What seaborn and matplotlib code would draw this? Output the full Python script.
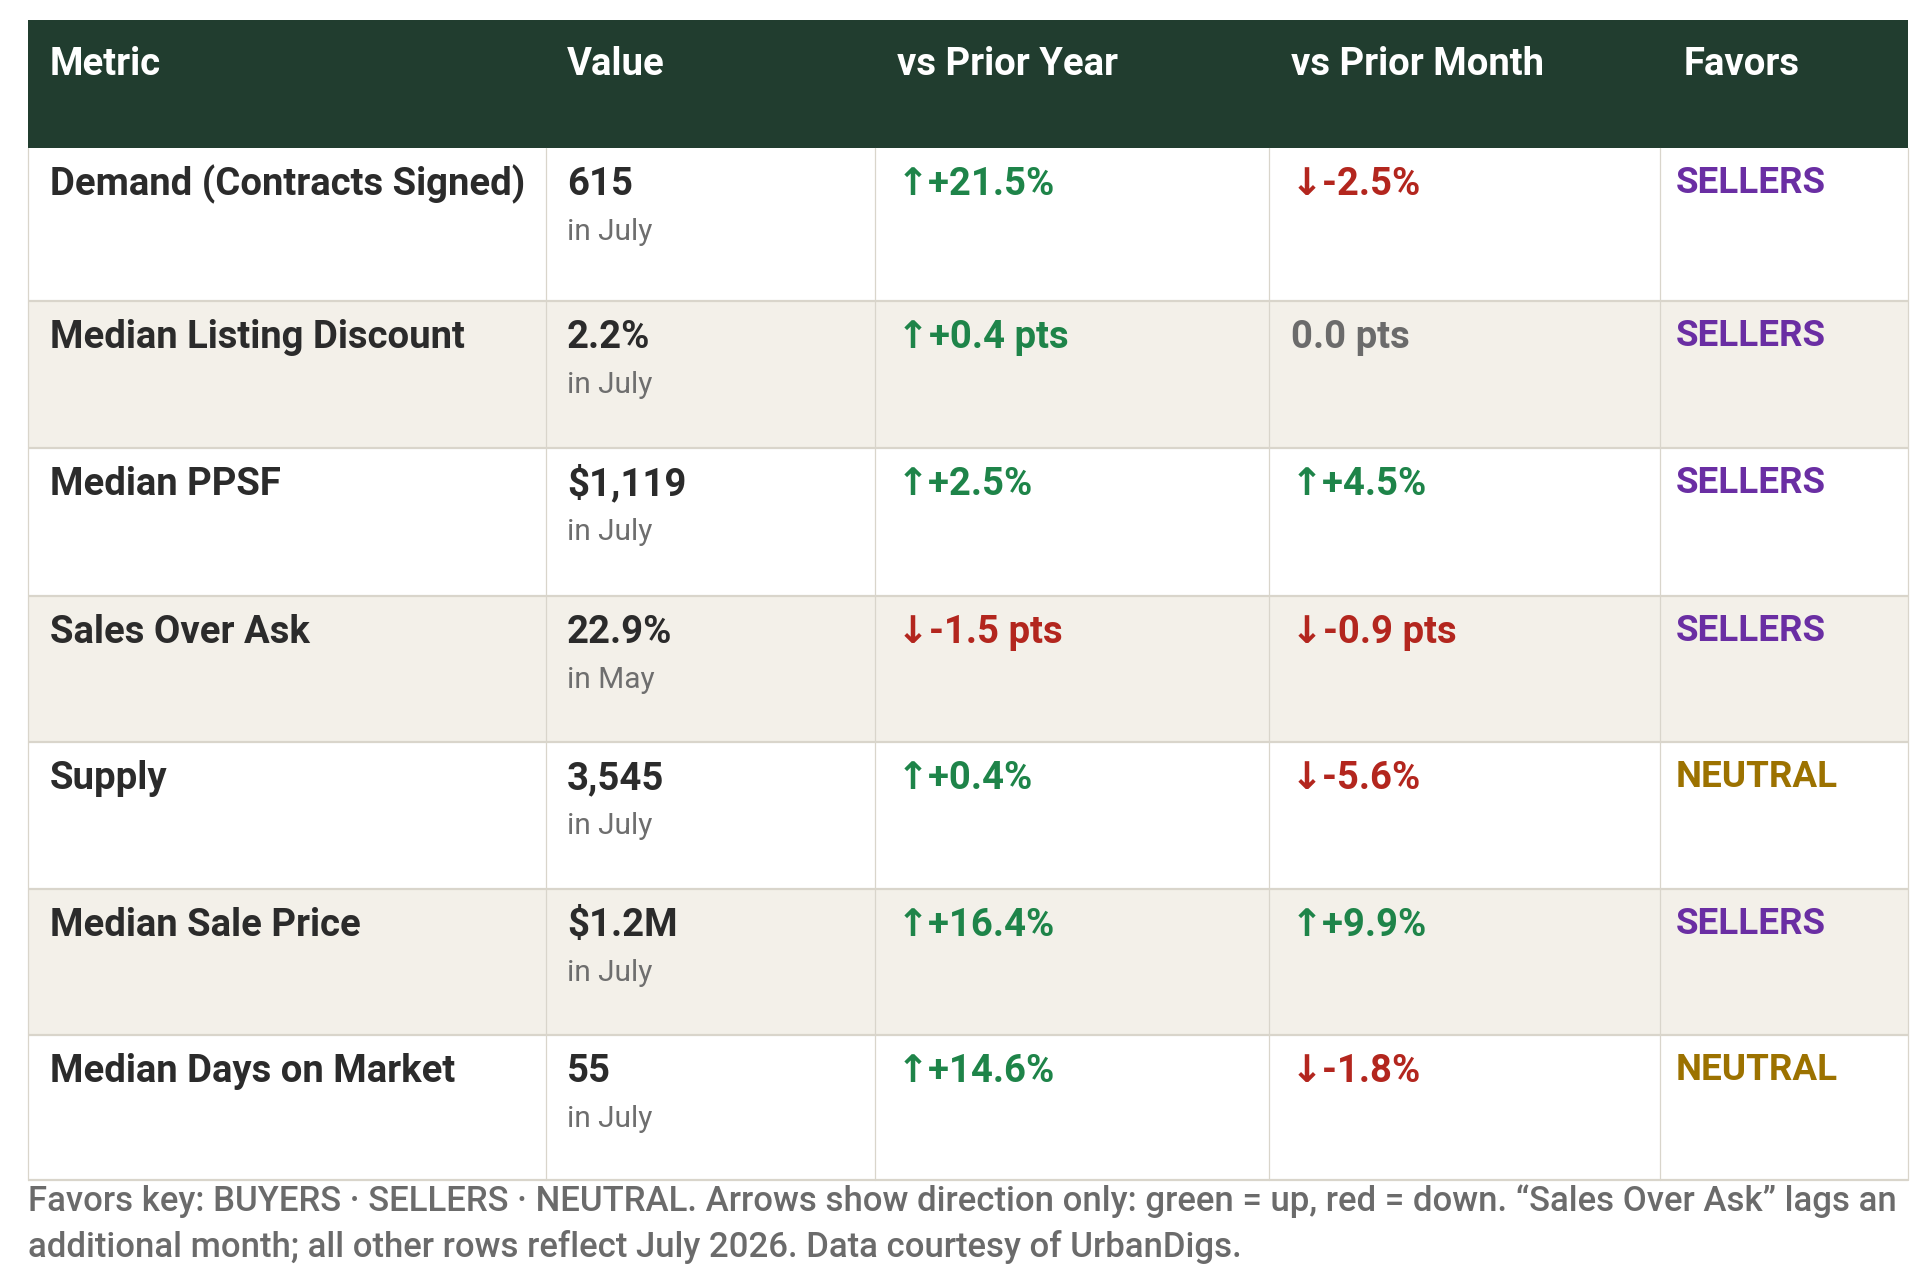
import matplotlib
matplotlib.use("Agg")
import matplotlib.pyplot as plt
from matplotlib.patches import Rectangle
import seaborn as sns

# ---------------- data ----------------
headers = ["Metric", "Value", "vs Prior Year", "vs Prior Month", "Favors"]
metrics = ["Demand (Contracts Signed)", "Median Listing Discount", "Median PPSF",
           "Sales Over Ask", "Supply", "Median Sale Price", "Median Days on Market"]
values = ["615", "2.2%", "$1,119", "22.9%", "3,545", "$1.2M", "55"]
periods = ["in July", "in July", "in July", "in May", "in July", "in July", "in July"]
vs_prior_year = ["+21.5%", "+0.4 pts", "+2.5%", "-1.5 pts", "+0.4%", "+16.4%", "+14.6%"]
vs_prior_month = ["-2.5%", "0.0 pts", "+4.5%", "-0.9 pts", "-5.6%", "+9.9%", "-1.8%"]
favors = ["SELLERS", "SELLERS", "SELLERS", "SELLERS", "NEUTRAL", "SELLERS", "NEUTRAL"]
footnote_lines = [
    "Favors key: BUYERS \u00b7 SELLERS \u00b7 NEUTRAL. Arrows show direction only: green = up, red = down. \u201cSales Over Ask\u201d lags an",
    "additional month; all other rows reflect July 2026. Data courtesy of UrbanDigs.",
]

# ---------------- style ----------------
sns.set_theme(style="white")
FAM = ["Roboto", "DejaVu Sans"]
plt.rcParams["font.family"] = FAM

HEADER_BG = "#213D2F"
ALT_BG = "#F3F0E9"
LINE = "#D9D5CB"
TEXT = "#2B2B2B"
SUB = "#6E6E6E"
GREEN = "#1E8449"
RED = "#B3261E"
GRAY = "#6B6B6B"
FAV_COLORS = {"SELLERS": "#6A2EA3", "NEUTRAL": "#9C7200", "BUYERS": "#1F5FA8"}

W, H = 1920, 1271
fig = plt.figure(figsize=(W / 100, H / 100), dpi=100)
ax = fig.add_axes([0, 0, 1, 1])
ax.set_xlim(0, W)
ax.set_ylim(H, 0)
ax.axis("off")
fig.patch.set_facecolor("white")

# layout (pixels)
x_edges = [28, 546, 875, 1269, 1660, 1908]
text_x = [50, 567, 897, 1291, 1676]
header_x = [50, 567, 897, 1291, 1684]
header_top, header_bot = 20, 148
row_edges = [148, 301, 448, 596, 742, 889, 1035, 1180]

MAIN_FS = 27.5
SUB_FS = 21.5
FAV_FS = 26.5
FOOT_FS = 25.0
WEIGHT = "semibold"

# header
ax.add_patch(Rectangle((x_edges[0], header_top), x_edges[-1] - x_edges[0],
                       header_bot - header_top, facecolor=HEADER_BG, edgecolor="none", zorder=1))
for j, h in enumerate(headers):
    ax.text(header_x[j], 75, h, color="white", fontsize=MAIN_FS, fontweight=WEIGHT,
            va="baseline", ha="left", zorder=3, parse_math=False)

# rows backgrounds
for i in range(len(metrics)):
    top, bot = row_edges[i], row_edges[i + 1]
    bg = ALT_BG if i % 2 == 1 else "white"
    ax.add_patch(Rectangle((x_edges[0], top), x_edges[-1] - x_edges[0], bot - top,
                           facecolor=bg, edgecolor="none", zorder=0))

# grid lines
for y in row_edges[1:]:
    ax.plot([x_edges[0], x_edges[-1]], [y, y], color=LINE, lw=1.6, zorder=2,
            solid_capstyle="butt")
for x in x_edges:
    ax.plot([x, x], [row_edges[0], row_edges[-1]], color=LINE, lw=0.9, zorder=2)


def change_parts(s):
    if s.startswith("+"):
        return "\u2191" + s, GREEN
    if s.startswith("-"):
        return "\u2193" + s, RED
    return s, GRAY


for i in range(len(metrics)):
    top = row_edges[i]
    base = top + 47
    ax.text(text_x[0], base, metrics[i], color=TEXT, fontsize=MAIN_FS, fontweight=WEIGHT,
            va="baseline", ha="left", zorder=3, parse_math=False)
    ax.text(text_x[1], base, values[i], color=TEXT, fontsize=MAIN_FS, fontweight=WEIGHT,
            va="baseline", ha="left", zorder=3, parse_math=False)
    ax.text(text_x[1], top + 92, periods[i], color=SUB, fontsize=SUB_FS,
            va="baseline", ha="left", zorder=3, parse_math=False)
    for j, col in ((2, vs_prior_year), (3, vs_prior_month)):
        txt, c = change_parts(col[i])
        ax.text(text_x[j], base, txt, color=c, fontsize=MAIN_FS, fontweight=WEIGHT,
                va="baseline", ha="left", zorder=3, parse_math=False)
    ax.text(text_x[4], top + 45, favors[i], color=FAV_COLORS[favors[i]], fontsize=FAV_FS,
            fontweight="bold", va="baseline", ha="left", zorder=3, parse_math=False)

# footnote
for k, line in enumerate(footnote_lines):
    ax.text(28, 1211 + k * 46, line, color=GRAY, fontsize=FOOT_FS, fontweight="medium",
            va="baseline", ha="left", zorder=3, parse_math=False)

fig.savefig("out.png", dpi=100, facecolor="white")
